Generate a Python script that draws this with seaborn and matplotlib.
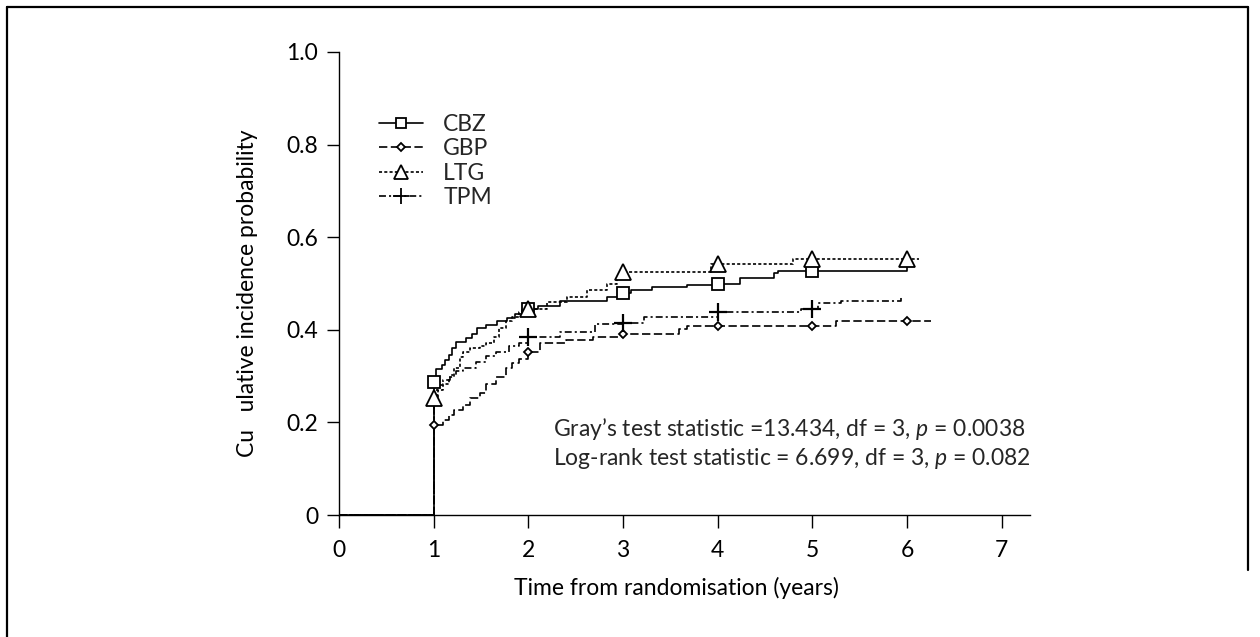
import numpy as np
import pandas as pd
import matplotlib
matplotlib.use("Agg")
import matplotlib.pyplot as plt
from matplotlib.lines import Line2D
import seaborn as sns

# ---------------- data ----------------
series_names = ["CBZ", "GBP", "LTG", "TPM"]

cbz_t = [0, 1, 1.03, 1.09, 1.12, 1.16, 1.19, 1.24, 1.34, 1.41, 1.46, 1.55, 1.67, 1.77, 1.86, 1.93,
         2.0, 2.1, 2.34, 2.83, 3.0, 3.08, 3.31, 3.68, 4.0, 4.24, 4.6, 4.64, 6.0]
cbz_v = [0, 0.288, 0.315, 0.324, 0.335, 0.346, 0.36, 0.374, 0.382, 0.392, 0.403, 0.41, 0.418, 0.425,
         0.435, 0.443, 0.446, 0.451, 0.463, 0.47, 0.48, 0.486, 0.492, 0.497, 0.50, 0.511, 0.522, 0.527, 0.55]

gbp_t = [0, 1, 1.1, 1.16, 1.21, 1.31, 1.38, 1.49, 1.55, 1.66, 1.76, 1.83, 1.9, 2.0, 2.12, 2.4, 2.68,
         3.0, 3.59, 3.68, 5.25, 6.25]
gbp_v = [0, 0.195, 0.205, 0.216, 0.227, 0.238, 0.252, 0.263, 0.284, 0.299, 0.317, 0.328, 0.338, 0.353,
         0.371, 0.378, 0.385, 0.392, 0.401, 0.408, 0.42, 0.42]

ltg_t = [0, 1, 1.05, 1.1, 1.16, 1.21, 1.28, 1.31, 1.38, 1.49, 1.55, 1.64, 1.69, 1.76, 1.83, 1.9, 2.0,
         2.2, 2.41, 2.62, 2.83, 2.94, 3.0, 3.93, 4.8, 6.13]
ltg_v = [0, 0.252, 0.27, 0.284, 0.299, 0.317, 0.342, 0.353, 0.36, 0.364, 0.371, 0.385, 0.403, 0.418,
         0.428, 0.439, 0.446, 0.461, 0.471, 0.486, 0.499, 0.511, 0.525, 0.542, 0.553, 0.553]

tpm_t = [0, 1, 1.04, 1.1, 1.17, 1.24, 1.31, 1.45, 1.55, 1.66, 1.8, 1.9, 2.0, 2.34, 2.7, 3.0, 3.22,
         4.0, 4.88, 5.06, 5.3, 5.94]
tpm_v = [0, 0.258, 0.28, 0.292, 0.302, 0.31, 0.317, 0.331, 0.343, 0.353, 0.364, 0.371, 0.385, 0.396,
         0.412, 0.414, 0.428, 0.439, 0.446, 0.457, 0.463, 0.475]

# years at which each curve carries a symbol
cbz_mark_years = [1, 2, 3, 4, 5]
gbp_mark_years = [1, 2, 3, 4, 5, 6]
ltg_mark_years = [1, 2, 3, 4, 5, 6]
tpm_mark_years = [2, 3, 4, 5]

x_ticks = [0, 1, 2, 3, 4, 5, 6, 7]
y_ticks = [0, 0.2, 0.4, 0.6, 0.8, 1.0]
y_ticklabels = ["0", "0.2", "0.4", "0.6", "0.8", "1.0"]

x_label = "Time from randomisation (years)"
y_label = "Cu   ulative incidence probability"
stat_line1 = "Gray\u2019s test statistic =13.434, df = 3, $p$ = 0.0038"
stat_line2 = "Log-rank test statistic = 6.699, df = 3, $p$ = 0.082"

# ---------------- styling ----------------
sns.set_theme(style="white")
plt.rcParams["font.family"] = ["Lato", "DejaVu Sans"]
plt.rcParams["mathtext.fontset"] = "custom"
plt.rcParams["mathtext.it"] = "Lato:italic"
plt.rcParams["mathtext.rm"] = "Lato"
plt.rcParams["lines.scale_dashes"] = False

FS = 16.5

styles = {
    "CBZ": dict(ls="-", marker="s", ms=8.5),
    "GBP": dict(ls=(0, (6, 2.5)), marker="D", ms=4.5),
    "LTG": dict(ls=(0, (2.2, 1.6)), marker="^", ms=11.5),
    "TPM": dict(ls=(0, (5, 2.2, 1.5, 2.2)), marker="+", ms=13),
}
data = {
    "CBZ": (cbz_t, cbz_v, cbz_mark_years),
    "GBP": (gbp_t, gbp_v, gbp_mark_years),
    "LTG": (ltg_t, ltg_v, ltg_mark_years),
    "TPM": (tpm_t, tpm_v, tpm_mark_years),
}

W, H, DPI = 12.6, 6.37, 100
fig = plt.figure(figsize=(W, H), dpi=DPI)
ax = fig.add_axes([339 / 1260, 1 - 515 / 637, (1030 - 339) / 1260, (515 - 52) / 637])

lw = 1.2
for name in series_names:
    t, v, my = data[name]
    st = styles[name]
    df = pd.DataFrame({"t": t, "v": v})
    sns.lineplot(data=df, x="t", y="v", ax=ax, estimator=None, sort=False,
                 drawstyle="steps-post", color="black", linewidth=lw, linestyle=st["ls"])
    # marker values taken from the step curve at the marked years
    tt = np.asarray(t)
    vv = np.asarray(v)
    idx = np.searchsorted(tt, np.asarray(my, dtype=float), side="right") - 1
    mv = vv[idx]
    mew = 1.6 if st["marker"] == "+" else 1.3
    ax.plot(my, mv, linestyle="none", marker=st["marker"], ms=st["ms"],
            mfc="white", mec="black", mew=mew, zorder=5)

ax.set_xlim(0, 7.3)
ax.set_ylim(0, 1.0)
ax.set_xticks(x_ticks)
ax.set_xticklabels([str(x) for x in x_ticks])
ax.set_yticks(y_ticks)
ax.set_yticklabels(y_ticklabels)
for s in ["top", "right"]:
    ax.spines[s].set_visible(False)
for s in ["left", "bottom"]:
    ax.spines[s].set_color("black")
    ax.spines[s].set_linewidth(1.0)
ax.tick_params(axis="both", direction="out", length=9, width=1.0, color="black",
               labelsize=FS, labelcolor="black", left=True, bottom=True)
ax.tick_params(axis="x", pad=9)
ax.tick_params(axis="y", pad=6)

ax.set_xlabel(x_label, fontsize=FS, color="black", va="top")
ax.set_ylabel(y_label, fontsize=FS, color="black")
ax.xaxis.set_label_coords(0.488, -0.134)
ax.yaxis.set_label_coords(-0.117, 0.48)

ax.text(0.31, 0.186, stat_line1, transform=ax.transAxes, fontsize=FS, va="center", ha="left")
ax.text(0.31, 0.123, stat_line2, transform=ax.transAxes, fontsize=FS, va="center", ha="left")

handles = []
for name in series_names:
    st = styles[name]
    handles.append(Line2D([], [], color="black", linewidth=lw, linestyle=st["ls"],
                          marker=st["marker"], ms=st["ms"] * 0.85, mfc="white", mec="black",
                          mew=1.3))
leg = ax.legend(handles, series_names, loc="upper left", bbox_to_anchor=(0.058, 0.866),
                frameon=False, fontsize=FS, handlelength=1.9, handletextpad=0.9,
                labelspacing=0.15, borderpad=0, borderaxespad=0, markerscale=1.0)

# outer frame of the figure panel
fig.add_artist(Line2D([7 / 1260, 7 / 1260], [0, 1 - 7 / 637], transform=fig.transFigure,
                      color="black", linewidth=1.6))
fig.add_artist(Line2D([7 / 1260, 1248 / 1260], [1 - 7 / 637, 1 - 7 / 637], transform=fig.transFigure,
                      color="black", linewidth=1.6))
fig.add_artist(Line2D([1248 / 1260, 1248 / 1260], [1 - 7 / 637, 1 - 570 / 637], transform=fig.transFigure,
                      color="black", linewidth=1.6))

fig.savefig("out.png", dpi=DPI, facecolor="white")
